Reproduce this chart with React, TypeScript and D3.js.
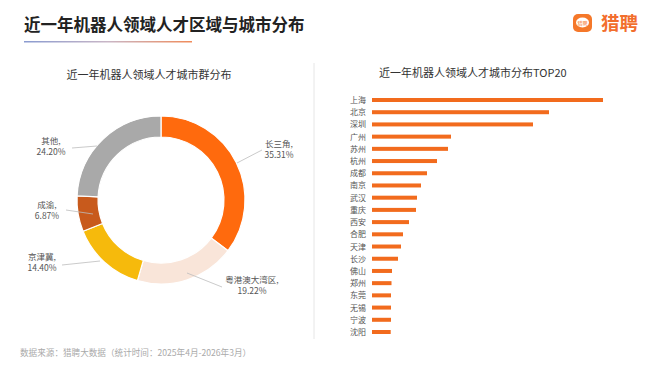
import * as React from "react";
import * as d3 from "d3";

const regionNames = ["长三角", "粤港澳大湾区", "京津冀", "成渝", "其他"];
const regionShares = [35.31, 19.22, 14.4, 6.87, 24.2];
const regionColors = ["#FF6A0D", "#F9E5D9", "#F6BA0C", "#C85A1C", "#A9A9A9"];

const cityNames = [
  "上海", "北京", "深圳", "广州", "苏州", "杭州", "成都", "南京", "武汉", "重庆",
  "西安", "合肥", "天津", "长沙", "佛山", "郑州", "东莞", "无锡", "宁波", "沈阳",
];
// relative sizes (no axis in the source)
const cityValues = [
  231, 177, 161, 79, 76, 65, 55, 49, 45, 44,
  37, 31, 29, 26, 20, 19.5, 19, 19, 19, 18.7,
];

const FONT = "'Noto Sans CJK SC', 'Noto Sans', sans-serif";

const Chart = () => {
  const svgRef = React.useRef<SVGSVGElement>(null);

  React.useEffect(() => {
    const svg = d3.select(svgRef.current);
    svg.selectAll("*").remove();
    svg.attr("width", 660).attr("height", 372).style("font-family", FONT);

    svg.append("rect").attr("width", 660).attr("height", 372).attr("fill", "#fff");

    // header
    const defs = svg.append("defs");
    const grad = defs
      .append("linearGradient")
      .attr("id", "uline")
      .attr("x1", "0%")
      .attr("x2", "100%");
    grad.append("stop").attr("offset", "0%").attr("stop-color", "#8A9BD0");
    grad.append("stop").attr("offset", "50%").attr("stop-color", "#C9B6C6");
    grad.append("stop").attr("offset", "100%").attr("stop-color", "#F08B5A");

    svg
      .append("text")
      .attr("x", 24)
      .attr("y", 31)
      .attr("font-size", 16.5)
      .attr("font-weight", "bold")
      .attr("fill", "#222")
      .text("近一年机器人领域人才区域与城市分布");
    svg
      .append("rect")
      .attr("x", 24)
      .attr("y", 41)
      .attr("width", 168)
      .attr("height", 1.5)
      .attr("fill", "url(#uline)");

    // logo
    svg
      .append("rect")
      .attr("x", 573)
      .attr("y", 14)
      .attr("width", 19)
      .attr("height", 18)
      .attr("rx", 5)
      .attr("fill", "#F5782A");
    svg
      .append("ellipse")
      .attr("cx", 582.5)
      .attr("cy", 22.5)
      .attr("rx", 6.5)
      .attr("ry", 5)
      .attr("fill", "#fff");
    svg
      .append("text")
      .attr("x", 582.5)
      .attr("y", 24.5)
      .attr("text-anchor", "middle")
      .attr("font-size", 5)
      .attr("fill", "#F5782A")
      .text("猎聘");
    svg
      .append("text")
      .attr("x", 601)
      .attr("y", 30)
      .attr("font-size", 18.5)
      .attr("font-weight", "bold")
      .attr("fill", "#F26E2E")
      .text("猎聘");

    // divider
    svg
      .append("line")
      .attr("x1", 314)
      .attr("x2", 314)
      .attr("y1", 63)
      .attr("y2", 339)
      .attr("stroke", "#E6E6E6")
      .attr("stroke-width", 1);

    // donut
    svg
      .append("text")
      .attr("x", 149)
      .attr("y", 79)
      .attr("text-anchor", "middle")
      .attr("font-size", 11)
      .attr("fill", "#333")
      .text("近一年机器人领域人才城市群分布");

    const cx = 161;
    const cy = 200;
    const pie = d3
      .pie<number>()
      .sort(null)
      .value((d) => d)(regionShares);
    const arc = d3.arc<d3.PieArcDatum<number>>().innerRadius(63).outerRadius(84);
    const donut = svg.append("g").attr("transform", `translate(${cx},${cy})`);
    donut
      .selectAll("path")
      .data(pie)
      .enter()
      .append("path")
      .attr("d", arc)
      .attr("fill", (d, i) => regionColors[i])
      .attr("stroke", "#fff")
      .attr("stroke-width", 1.2);

    // label leader lines and text spots
    const labelPos = [
      { l: [237, 163, 262, 150], tx: 279, ty: 147 },
      { l: [187, 273, 222, 287], tx: 252, ty: 283 },
      { l: [100, 261, 62, 265], tx: 42, ty: 260 },
      { l: [93, 214, 66, 210], tx: 47, ty: 208 },
      { l: [97, 146, 72, 148], tx: 51, ty: 144 },
    ];
    labelPos.forEach((p, i) => {
      svg
        .append("line")
        .attr("x1", p.l[0])
        .attr("y1", p.l[1])
        .attr("x2", p.l[2])
        .attr("y2", p.l[3])
        .attr("stroke", "#BDBDBD")
        .attr("stroke-width", 0.8);
      const t = svg
        .append("text")
        .attr("x", p.tx)
        .attr("y", p.ty)
        .attr("text-anchor", "middle")
        .attr("font-size", 8.5)
        .attr("fill", "#555");
      t.append("tspan").attr("x", p.tx).text(regionNames[i] + ",");
      t.append("tspan")
        .attr("x", p.tx)
        .attr("dy", 10.5)
        .text(regionShares[i].toFixed(2) + "%");
    });

    // bars
    svg
      .append("text")
      .attr("x", 379)
      .attr("y", 77)
      .attr("font-size", 11)
      .attr("fill", "#333")
      .text("近一年机器人领域人才城市分布TOP20");

    const x = d3
      .scaleLinear()
      .domain([0, d3.max(cityValues) as number])
      .range([372, 603]);
    const y = d3.scalePoint<string>().domain(cityNames).range([100, 332]);

    const rows = svg
      .append("g")
      .selectAll("g")
      .data(cityNames)
      .enter()
      .append("g");
    rows
      .append("rect")
      .attr("x", x(0))
      .attr("y", (d) => (y(d) as number) - 2)
      .attr("width", (d, i) => x(cityValues[i]) - x(0))
      .attr("height", 4)
      .attr("fill", "#F26B1D");
    rows
      .append("text")
      .attr("x", 350)
      .attr("y", (d) => (y(d) as number) + 3)
      .attr("font-size", 8)
      .attr("fill", "#555")
      .text((d) => d);

    // footer
    svg
      .append("text")
      .attr("x", 20)
      .attr("y", 356)
      .attr("font-size", 8.6)
      .attr("fill", "#AAAAAA")
      .text("数据来源：猎聘大数据（统计时间：2025年4月-2026年3月）");
  }, []);

  return <svg ref={svgRef} style={{ display: "block" }} />;
};

export default function App() {
  return (
    <div style={{ margin: -8 }}>
      <Chart />
    </div>
  );
}
